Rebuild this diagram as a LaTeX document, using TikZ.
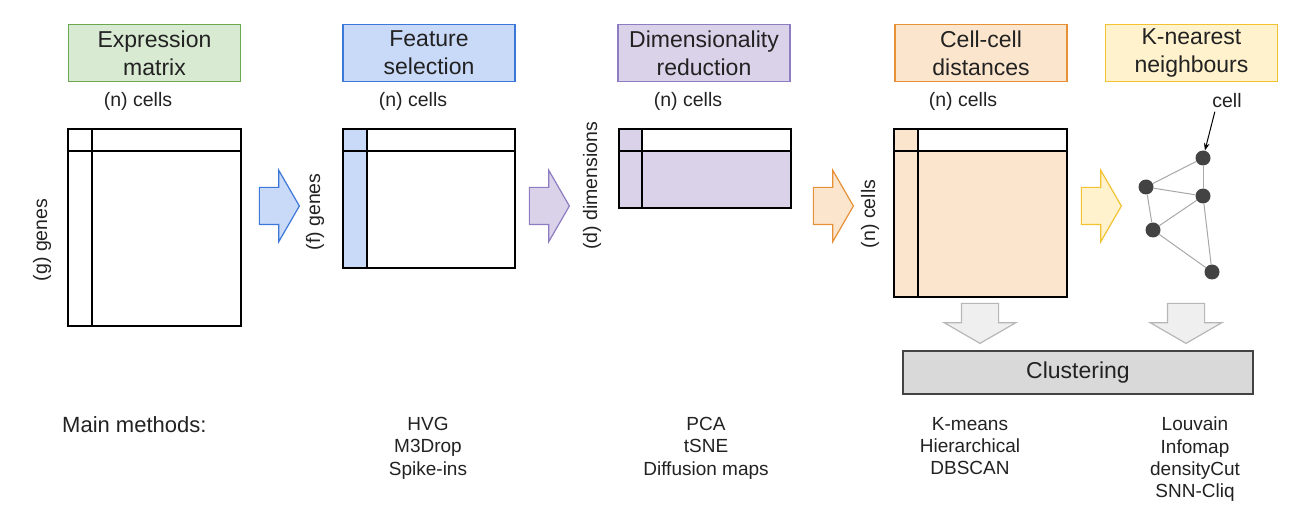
\documentclass[tikz,border=0pt]{standalone}
\usepackage{fontspec}
\setmainfont{Liberation Sans}
\usepackage{tikz}
\usetikzlibrary{shapes.arrows,arrows.meta,positioning}
\definecolor{exprgreen}{HTML}{D9EAD3}
\definecolor{exprgreenline}{HTML}{6AA84F}
\definecolor{featblue}{HTML}{C9DAF8}
\definecolor{featblueline}{HTML}{3C78D8}
\definecolor{dimpurple}{HTML}{D9D2E9}
\definecolor{dimpurpleline}{HTML}{8E7CC3}
\definecolor{distorange}{HTML}{FCE5CD}
\definecolor{distorangeline}{HTML}{E69138}
\definecolor{knnyellow}{HTML}{FFF2CC}
\definecolor{knnyellowline}{HTML}{F1C232}
\definecolor{downgray}{HTML}{EFEFEF}
\definecolor{downgrayline}{HTML}{B7B7B7}
\definecolor{clustgray}{HTML}{D9D9D9}
\definecolor{clustgrayline}{HTML}{434343}
\definecolor{dotgray}{HTML}{434343}
\definecolor{edgegray}{HTML}{A8A8A8}
\definecolor{textdark}{HTML}{222222}
\tikzset{
  stepbox/.style={rectangle,draw=#1line,fill=#1,line width=1.2pt,
    minimum width=172pt,minimum height=57pt,inner sep=0pt,align=center,
    font=\fontsize{23}{28}\selectfont,text=textdark},
  mcell/.style={rectangle,draw=black,line width=1.2pt,fill=#1,
    inner sep=0pt,outer sep=0pt,anchor=north west},
  mcell/.default=white,
  axislabel/.style={font=\fontsize{19.5}{23}\selectfont,text=textdark},
  blockarrow/.style={single arrow,draw=#1line,fill=#1,line width=1.2pt,
    minimum height=40pt,inner xsep=0pt,inner ysep=18pt,
    single arrow head extend=17pt,single arrow tip angle=120},
  knndot/.style={circle,fill=dotgray,minimum size=15pt,inner sep=0pt},
  knnedge/.style={draw=edgegray,line width=1pt},
  methodlist/.style={align=center,anchor=north,inner sep=0pt,
    font=\fontsize{19}{22.3}\selectfont,text=textdark},
}

\begin{document}
\begin{tikzpicture}[x=1pt,y=-1pt]
\useasboundingbox (0,0) rectangle (1314,518);

% ── Step titles ───────────────────────────────────────────────────────────
\node[stepbox=exprgreen]  (expr) at (154.5,53) {Expression\\matrix};
\node[stepbox=featblue]   (feat) at (429,53)   {Feature\\selection};
\node[stepbox=dimpurple]  (dimr) at (704,53)   {Dimensionality\\reduction};
\node[stepbox=distorange] (dist) at (981,53)   {Cell-cell\\distances};
\node[stepbox=knnyellow]  (knn)  at (1191.5,53) {K-nearest\\neighbours};

% ── Axis labels ───────────────────────────────────────────────────────────
\node[axislabel] (exprcols) at (138,101) {(n) cells};
\node[axislabel] (featcols) at (413,101) {(n) cells};
\node[axislabel] (dimrcols) at (688,101) {(n) cells};
\node[axislabel] (distcols) at (963,101) {(n) cells};
\node[axislabel] (cell)     at (1227,101) {cell};
\node[axislabel, rotate=90] (exprrows) at (42,240)  {(g) genes};
\node[axislabel, rotate=90] (featrows) at (315,212) {(f) genes};
\node[axislabel, rotate=90] (dimrrows) at (592,186) {(d) dimensions};
\node[axislabel, rotate=90] (distrows) at (870,214) {(n) cells};

% ── Expression matrix ─────────────────────────────────────────────────────
\node[mcell, minimum width=24pt, minimum height=22pt] (exprc) at (68,129) {};
\node[mcell, minimum width=149pt, minimum height=22pt, right=0pt of exprc] (exprt) {};
\node[mcell, minimum width=24pt, minimum height=175pt, below=0pt of exprc] (exprl) {};
\node[mcell, minimum width=149pt, minimum height=175pt,
  below right=0pt and 0pt of exprc] (exprb) {};

% ── Feature selection matrix ──────────────────────────────────────────────
\node[mcell=featblue, minimum width=24pt, minimum height=22pt] (featc) at (343,129) {};
\node[mcell, minimum width=148pt, minimum height=22pt, right=0pt of featc] (featt) {};
\node[mcell=featblue, minimum width=24pt, minimum height=117pt, below=0pt of featc] (featl) {};
\node[mcell, minimum width=148pt, minimum height=117pt,
  below right=0pt and 0pt of featc] (featb) {};

% ── Reduced matrix ────────────────────────────────────────────────────────
\node[mcell=dimpurple, minimum width=23pt, minimum height=22pt] (dimrc) at (619,129) {};
\node[mcell, minimum width=149pt, minimum height=22pt, right=0pt of dimrc] (dimrt) {};
\node[mcell=dimpurple, minimum width=23pt, minimum height=57pt, below=0pt of dimrc] (dimrl) {};
\node[mcell=dimpurple, minimum width=149pt, minimum height=57pt,
  below right=0pt and 0pt of dimrc] (dimrb) {};

% ── Distance matrix ───────────────────────────────────────────────────────
\node[mcell=distorange, minimum width=24pt, minimum height=22pt] (distc) at (894,129) {};
\node[mcell, minimum width=149pt, minimum height=22pt, right=0pt of distc] (distt) {};
\node[mcell=distorange, minimum width=24pt, minimum height=146pt, below=0pt of distc] (distl) {};
\node[mcell=distorange, minimum width=149pt, minimum height=146pt,
  below right=0pt and 0pt of distc] (distb) {};

% ── Block arrows between steps ────────────────────────────────────────────
\node[blockarrow=featblue]   (toFeat) at (274,206)  {};
\node[blockarrow=dimpurple]  (toDimr) at (544,206)  {};
\node[blockarrow=distorange] (toDist) at (828,206)  {};
\node[blockarrow=knnyellow]  (toKnn)  at (1096,206) {};
\node[blockarrow=downgray, rotate=-90] (distDown) at (980,318)  {};
\node[blockarrow=downgray, rotate=-90] (knnDown)  at (1186,318) {};

% ── kNN graph ─────────────────────────────────────────────────────────────
\node[knndot] (k1) at (1203,158) {};
\node[knndot] (k2) at (1146,187) {};
\node[knndot] (k3) at (1203,196) {};
\node[knndot] (k4) at (1153,230) {};
\node[knndot] (k5) at (1212,272) {};
\foreach \a/\b in {k2/k1, k2/k3, k1/k3, k2/k4, k4/k3, k3/k5, k4/k5}
  \draw[knnedge] (\a) -- (\b);
\draw[-Stealth, line width=1pt] ([xshift=6pt]cell.south west) -- (k1);

% ── Clustering ────────────────────────────────────────────────────────────
\node[rectangle, draw=clustgrayline, fill=clustgray, line width=1.2pt,
  minimum width=350pt, minimum height=43pt, text=textdark,
  font=\fontsize{23}{28}\selectfont] (clust) at (1078,372.5) {Clustering};

% ── Main methods ──────────────────────────────────────────────────────────
\node[anchor=west, inner sep=0pt, text=textdark, font=\fontsize{22}{26}\selectfont]
  (methods) at (62,425) {Main methods:};
\node[methodlist] (featm) at (428,417)  {HVG\\M3Drop\\Spike-ins};
\node[methodlist] (dimrm) at (706,417)  {PCA\\tSNE\\Diffusion maps};
\node[methodlist] (distm) at (970,417)  {K-means\\Hierarchical\\DBSCAN};
\node[methodlist] (knnm)  at (1195,417) {Louvain\\Infomap\\densityCut\\SNN-Cliq};

\end{tikzpicture}
\end{document}
